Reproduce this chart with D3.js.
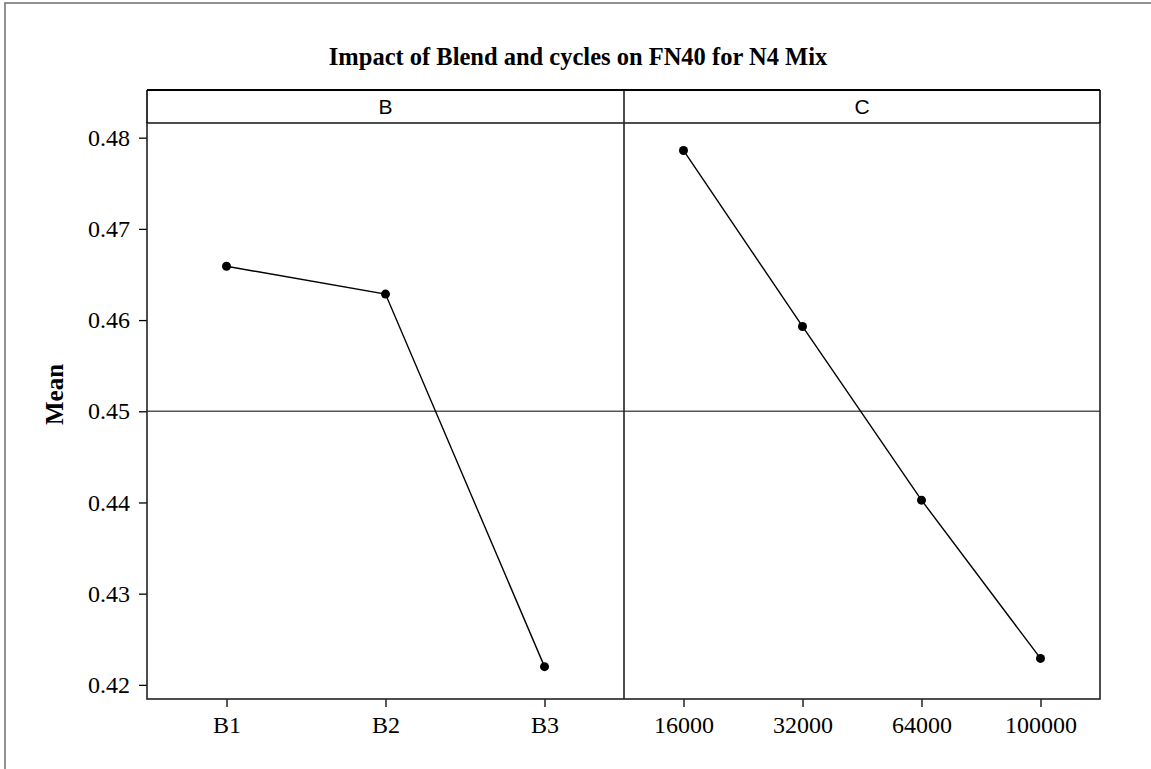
<!DOCTYPE html>
<html>
<head>
<meta charset="utf-8">
<script src="https://cdn.jsdelivr.net/npm/d3@7"></script>
<style>
  html, body { margin: 0; padding: 0; background: #fff; }
  svg { display: block; }
</style>
</head>
<body>
<svg id="chart" width="1151" height="769"></svg>
<script>
// Main effects plot: mean FN40 for each level of factor B and factor C
const titleText = "Impact of Blend and cycles on FN40 for N4 Mix";
const yLabel = "Mean";

const panelNames = ["B", "C"];
const blendLevels = ["B1", "B2", "B3"];
const blendMeans = [0.4659, 0.46285, 0.4220];
const cycleLevels = ["16000", "32000", "64000", "100000"];
const cycleMeans = [0.4786, 0.4593, 0.44025, 0.4229];
const yTicks = [0.42, 0.43, 0.44, 0.45, 0.46, 0.47, 0.48];
const grandMean = 0.45;

const svg = d3.select("#chart");
const serif = "Liberation Serif, Times New Roman, serif";

// outer frame
svg.append("rect")
  .attr("x", 5).attr("y", 3)
  .attr("width", 1160).attr("height", 800)
  .attr("fill", "none").attr("stroke", "#777").attr("stroke-width", 1.6);

const left = 147, right = 1100, mid = 624;
const headTop = 90, plotTop = 123, plotBottom = 699;

const y = d3.scaleLinear().domain([0.41845, 0.48161]).range([plotBottom, plotTop]);

svg.append("text")
  .attr("x", 578).attr("y", 65)
  .attr("text-anchor", "middle")
  .attr("font-family", serif)
  .attr("font-weight", "bold")
  .attr("font-size", 24.5)
  .text(titleText);

// y axis
const yAxis = d3.axisLeft(y).tickValues(yTicks).tickFormat(d3.format(".2f")).tickSize(8).tickPadding(9);
const gy = svg.append("g").attr("transform", `translate(${left},0)`).call(yAxis);
gy.select(".domain").remove();
gy.selectAll("line").attr("stroke", "#000").attr("stroke-width", 1.3);
gy.selectAll("text")
  .attr("font-family", serif)
  .attr("font-size", 24).attr("fill", "#000");

svg.append("text")
  .attr("transform", `translate(63,${(headTop + plotBottom) / 2}) rotate(-90)`)
  .attr("text-anchor", "middle")
  .attr("font-family", serif)
  .attr("font-weight", "bold")
  .attr("font-size", 25)
  .text(yLabel);

const panels = [
  { name: panelNames[0], levels: blendLevels, means: blendMeans, x0: left, x1: mid },
  { name: panelNames[1], levels: cycleLevels, means: cycleMeans, x0: mid, x1: right }
];

panels.forEach(p => {
  const x = d3.scalePoint().domain(p.levels).range([p.x0, p.x1]).padding(0.5);

  // reference line at the overall mean
  svg.append("line")
    .attr("x1", p.x0).attr("x2", p.x1)
    .attr("y1", y(grandMean)).attr("y2", y(grandMean))
    .attr("stroke", "#555").attr("stroke-width", 1.5);

  // x axis ticks and labels
  const xAxis = d3.axisBottom(x).tickSize(8).tickPadding(9);
  const gx = svg.append("g").attr("transform", `translate(0,${plotBottom})`).call(xAxis);
  gx.select(".domain").remove();
  gx.selectAll("line").attr("stroke", "#000").attr("stroke-width", 1.3);
  gx.selectAll("text")
    .attr("font-family", serif)
    .attr("font-size", 24).attr("fill", "#000");

  // header strip label
  svg.append("text")
    .attr("x", (p.x0 + p.x1) / 2).attr("y", 114)
    .attr("text-anchor", "middle")
    .attr("font-family", "Liberation Sans, Arial, sans-serif")
    .attr("font-size", 21)
    .text(p.name);

  const data = p.levels.map((l, i) => ({ l, v: p.means[i] }));
  svg.append("path")
    .datum(data)
    .attr("fill", "none").attr("stroke", "#000").attr("stroke-width", 1.4)
    .attr("d", d3.line().x(d => x(d.l)).y(d => y(d.v)));

  svg.selectAll(null).data(data).enter().append("circle")
    .attr("cx", d => x(d.l)).attr("cy", d => y(d.v))
    .attr("r", 4.5).attr("fill", "#000");
});

// panel frames
svg.append("rect")
  .attr("x", left).attr("y", plotTop)
  .attr("width", right - left).attr("height", plotBottom - plotTop)
  .attr("fill", "none").attr("stroke", "#222").attr("stroke-width", 1.6);
svg.append("line")
  .attr("x1", mid).attr("x2", mid).attr("y1", headTop).attr("y2", plotBottom)
  .attr("stroke", "#222").attr("stroke-width", 1.6);
svg.append("line")
  .attr("x1", left).attr("x2", right).attr("y1", headTop).attr("y2", headTop)
  .attr("stroke", "#000").attr("stroke-width", 2);
svg.append("line")
  .attr("x1", left).attr("x2", left).attr("y1", headTop).attr("y2", plotTop)
  .attr("stroke", "#000").attr("stroke-width", 1.6);
svg.append("line")
  .attr("x1", right).attr("x2", right).attr("y1", headTop).attr("y2", plotTop)
  .attr("stroke", "#000").attr("stroke-width", 1.6);
</script>
</body>
</html>
